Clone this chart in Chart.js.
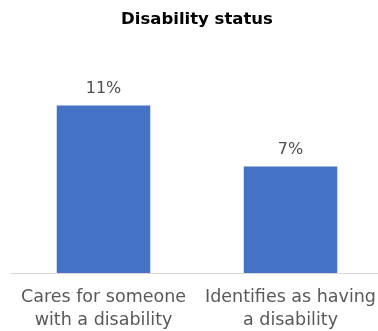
<!DOCTYPE html>
<html>
<head>
<meta charset="utf-8">
<script src="https://cdn.jsdelivr.net/npm/chart.js@4.4.0/dist/chart.umd.min.js"></script>
<style>
  html, body { margin: 0; padding: 0; background: #fff; overflow: hidden; }
  #wrap { width: 384px; height: 331px; }
</style>
</head>
<body>
<div id="wrap"><canvas id="disabilityChart" width="384" height="331"></canvas></div>
<script>
// Disability status survey shares
const categories = [
    ['Cares for someone', 'with a disability'],
    ['Identifies as having', 'a disability']
];
const shares = [11, 7];
const yTicks = [0, 14];

// writes the percentage above each bar
const barValueLabels = {
    id: 'barValueLabels',
    afterDatasetsDraw(chart) {
        const ctx = chart.ctx;
        const meta = chart.getDatasetMeta(0);
        ctx.save();
        ctx.font = '16px "DejaVu Sans"';
        ctx.fillStyle = '#505050';
        ctx.textAlign = 'center';
        ctx.textBaseline = 'bottom';
        meta.data.forEach((bar, i) => {
            ctx.fillText(shares[i] + '%', bar.x, bar.y - 9);
        });
        ctx.restore();
    }
};

const ctx = document.getElementById('disabilityChart').getContext('2d');

new Chart(ctx, {
    type: 'bar',
    data: {
        labels: categories,
        datasets: [{
            data: shares,
            backgroundColor: '#4472C4',
            borderWidth: 0,
            barPercentage: 0.5,
            categoryPercentage: 1
        }]
    },
    options: {
        responsive: false,
        animation: false,
        layout: {
            padding: { left: 10, right: 0, top: 0, bottom: 0 }
        },
        plugins: {
            legend: { display: false },
            tooltip: { enabled: false },
            title: {
                display: true,
                text: 'Disability status',
                color: '#000',
                font: { family: '"DejaVu Sans"', size: 16.5, weight: 'bold' },
                padding: { top: 10, bottom: 30 }
            }
        },
        scales: {
            y: {
                display: false,
                min: yTicks[0],
                max: yTicks[1]
            },
            x: {
                grid: { display: false },
                border: { display: true, color: '#d9d9d9', width: 1 },
                afterFit(scale) {
                    scale.height = 58;
                },
                ticks: {
                    color: '#595959',
                    font: { family: '"DejaVu Sans"', size: 17.5, lineHeight: 1.32 },
                    maxRotation: 0,
                    autoSkip: false,
                    padding: 5
                }
            }
        }
    },
    plugins: [barValueLabels]
});
</script>
</body>
</html>
